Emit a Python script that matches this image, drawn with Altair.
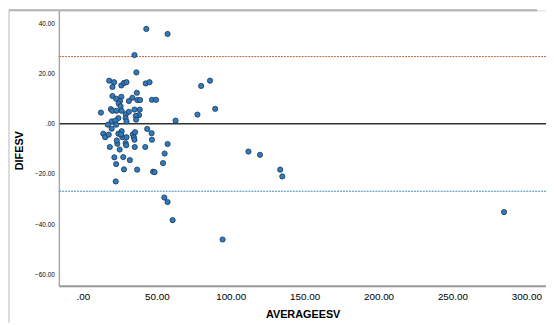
import altair as alt
import pandas as pd

avg = [42.9, 57.3, 34.9, 36.2, 17.8, 21.1, 20.0, 26.0, 27.8, 29.5, 42.5, 45.1, 80.0, 86.0,
       36.5, 33.5, 31.1, 20.0, 22.5, 26.0, 25.1, 24.2, 36.9, 38.7, 46.7, 49.5, 12.2, 18.9,
       20.0, 22.7, 25.5, 26.2, 29.1, 31.1, 34.9, 38.5, 38.0, 35.8, 28.9, 24.0, 19.5, 22.0,
       29.5, 36.0, 62.7, 77.5, 89.5, 16.9, 19.5, 22.5, 13.8, 15.1, 17.5, 24.0, 26.2, 26.7,
       25.8, 29.5, 33.8, 35.3, 34.5, 34.9, 43.5, 46.5, 46.7, 18.2, 23.3, 22.9, 28.9, 29.3,
       24.9, 35.1, 42.2, 57.3, 55.3, 54.2, 47.5, 48.5, 21.3, 27.3, 31.8, 22.5, 27.8, 36.7,
       112.0, 119.8, 133.5, 134.9, 284.9, 22.2, 55.1, 57.3, 60.7, 94.5]
dif = [37.7, 35.7, 27.3, 20.4, 17.1, 16.5, 14.6, 15.2, 16.2, 16.5, 16.0, 16.5, 15.0, 17.1,
       12.3, 10.3, 9.0, 11.0, 9.9, 10.7, 9.0, 8.0, 9.4, 9.4, 9.5, 9.5, 4.4, 5.8,
       5.1, 5.1, 6.9, 5.1, 3.8, 4.7, 5.6, 5.6, 3.4, 3.1, 2.2, 2.2, 0.9, 1.2,
       0.9, 1.6, 1.2, 3.6, 5.9, -0.4, -2.0, -0.4, -4.0, -5.4, -4.4, -4.0, -3.0, -5.4,
       -4.3, -5.4, -4.3, -3.4, -5.4, -6.4, -2.1, -3.8, -6.4, -9.3, -8.0, -6.7, -7.7, -8.6,
       -10.3, -9.3, -9.3, -8.1, -11.9, -15.7, -19.1, -19.3, -13.4, -13.3, -14.5, -16.1, -18.2, -18.3,
       -11.1, -12.4, -18.3, -21.0, -35.2, -23.0, -29.4, -31.2, -38.4, -46.1]

upper_loa = [26.7]
mean_line = [0.0]
lower_loa = [-26.9]

df = pd.DataFrame({"AVERAGEESV": avg, "DIFESV": dif})

xs = alt.Scale(domain=[-16, 313.3], nice=False, zero=False)
ys = alt.Scale(domain=[-64.7, 45.1], nice=False, zero=False)

lbl_expr = "datum.value == 0 ? '.00' : format(datum.value, '.2f')"

points = alt.Chart(df).mark_point(
    filled=True, size=28, color="#2f7bbf", stroke="#1d3550", strokeWidth=0.8, opacity=1
).encode(
    x=alt.X("AVERAGEESV:Q", scale=xs, title="AVERAGEESV",
            axis=alt.Axis(values=[0, 50, 100, 150, 200, 250, 300], labelExpr=lbl_expr,
                          ticks=False, grid=False, domain=False, labelPadding=5,
                          titlePadding=8)),
    y=alt.Y("DIFESV:Q", scale=ys, title="DIFESV",
            axis=alt.Axis(values=[40, 20, 0, -20, -40, -60], labelExpr=lbl_expr,
                          ticks=False, grid=False, domain=False, labelPadding=5,
                          labelFontSize=6.5,
                          titleX=-35, titleY=142, titleAngle=270,
                          titleAlign="center", titleBaseline="bottom")),
)

zero = alt.Chart(pd.DataFrame({"v": mean_line})).mark_rule(
    color="#333333", strokeWidth=1.5
).encode(y=alt.Y("v:Q", scale=ys))

up = alt.Chart(pd.DataFrame({"v": upper_loa})).mark_rule(
    color="#b8683f", strokeWidth=1, strokeDash=[2, 1]
).encode(y=alt.Y("v:Q", scale=ys))

lo = alt.Chart(pd.DataFrame({"v": lower_loa})).mark_rule(
    color="#3b8cb3", strokeWidth=1, strokeDash=[2, 1]
).encode(y=alt.Y("v:Q", scale=ys))

frame_df = pd.DataFrame({"k": [0]})
left_axis = alt.Chart(frame_df).mark_rule(color="#8a8a8a", strokeWidth=1).encode(
    x=alt.value(0), y=alt.value(0), y2=alt.value(280))
bottom_axis = alt.Chart(frame_df).mark_rule(color="#9a9a9a", strokeWidth=2).encode(
    x=alt.value(0), x2=alt.value(494), y=alt.value(280))
top_axis = alt.Chart(frame_df).mark_rule(color="#b0b0b0", strokeWidth=2).encode(
    x=alt.value(-51), x2=alt.value(485), y=alt.value(0))
outer_left = alt.Chart(frame_df).mark_rule(color="#b8b8b8", strokeWidth=1).encode(
    x=alt.value(-51), y=alt.value(0), y2=alt.value(317))

chart = alt.layer(
    up, lo, zero, points, left_axis, bottom_axis, top_axis, outer_left
).properties(
    width=494, height=280,
    autosize=alt.AutoSizeParams(type="none"),
    padding={"left": 52, "top": 0, "right": 0, "bottom": 37},
).configure_view(
    stroke=None
).configure_axis(
    labelFont="Liberation Sans", labelFontSize=7, labelColor="#333333",
    titleFont="Liberation Sans", titleFontSize=10.5, titleFontWeight="bold",
    titleColor="#111111"
).configure(background="white")

chart.save("out.html", embed_options={"renderer": "svg", "actions": False})
